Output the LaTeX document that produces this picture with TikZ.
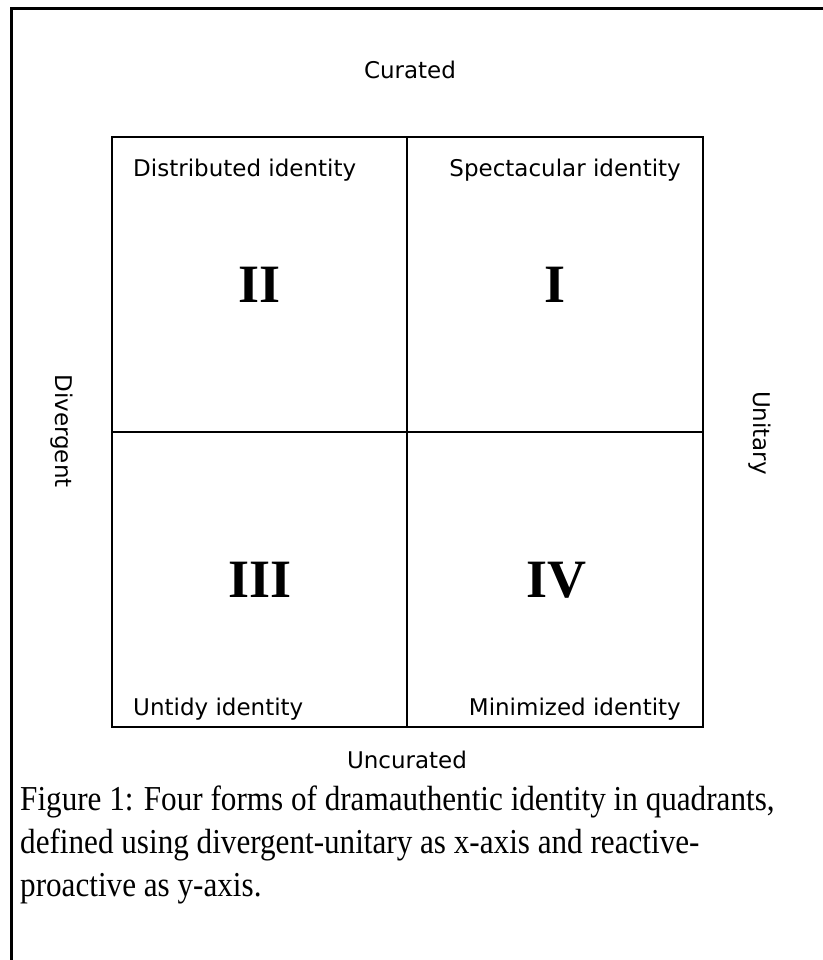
\documentclass[tikz,border=0pt]{standalone}
\usepackage{fontspec}
\setmainfont{Liberation Serif}
\newfontfamily\lblfont{DejaVu Sans}
\newcommand{\capline}[1]{\scalebox{0.89}[1]{#1}}
\begin{document}
\begin{tikzpicture}[x=1pt,y=-1pt,
  gridline/.style={line width=2pt},
  framepath/.style={line width=3pt},
  lbl/.style={font=\lblfont\fontsize{23}{27}\selectfont, inner sep=0pt},
  numtxt/.style={font=\bfseries\fontsize{54}{60}\selectfont, inner sep=0pt},
  captxt/.style={font=\fontsize{35}{43}\selectfont, inner sep=0pt, anchor=base west}]
\useasboundingbox (0,0) rectangle (822,960);
\draw[framepath] (11,962) -- (11,9) -- (825,9);
% grid
\coordinate (tl) at (112,137);
\coordinate (br) at (703,727);
\draw[gridline] (tl) rectangle (br);
\coordinate (mt) at (407,137);
\coordinate (mb) at (407,727);
\coordinate (ml) at (112,432);
\coordinate (mr) at (703,432);
\draw[gridline] (mt) -- (mb);
\draw[gridline] (ml) -- (mr);
% axis labels
\node[lbl] (cur) at (410,70) {Curated};
\node[lbl] (uncur) at (407,760) {Uncurated};
\node[lbl, rotate=-90] (div) at (62,431) {Divergent};
\node[lbl, rotate=-90] (uni) at (760,433) {Unitary};
% quadrant labels
\node[lbl, anchor=west] (d) at (133,170) {Distributed identity};
\node[lbl, anchor=east] (s) at (681,170) {Spectacular identity};
\node[lbl, anchor=west] (u) at (133,709) {Untidy identity};
\node[lbl, anchor=east] (m) at (681,709) {Minimized identity};
% numerals
\node[numtxt] (n2) at (260,285) {II};
\node[numtxt] (n1) at (555,285) {I};
\node[numtxt] (n3) at (260,580) {III};
\node[numtxt] (n4) at (556,580) {IV};
% caption
\node[captxt] (cap1) at (20,810) {\capline{Figure 1: Four forms of dramauthentic identity in quadrants,}};
\node[captxt] (cap2) at (20,853) {\capline{defined using divergent-unitary as x-axis and reactive-}};
\node[captxt] (cap3) at (20,896) {\capline{proactive as y-axis.}};
\end{tikzpicture}
\end{document}
